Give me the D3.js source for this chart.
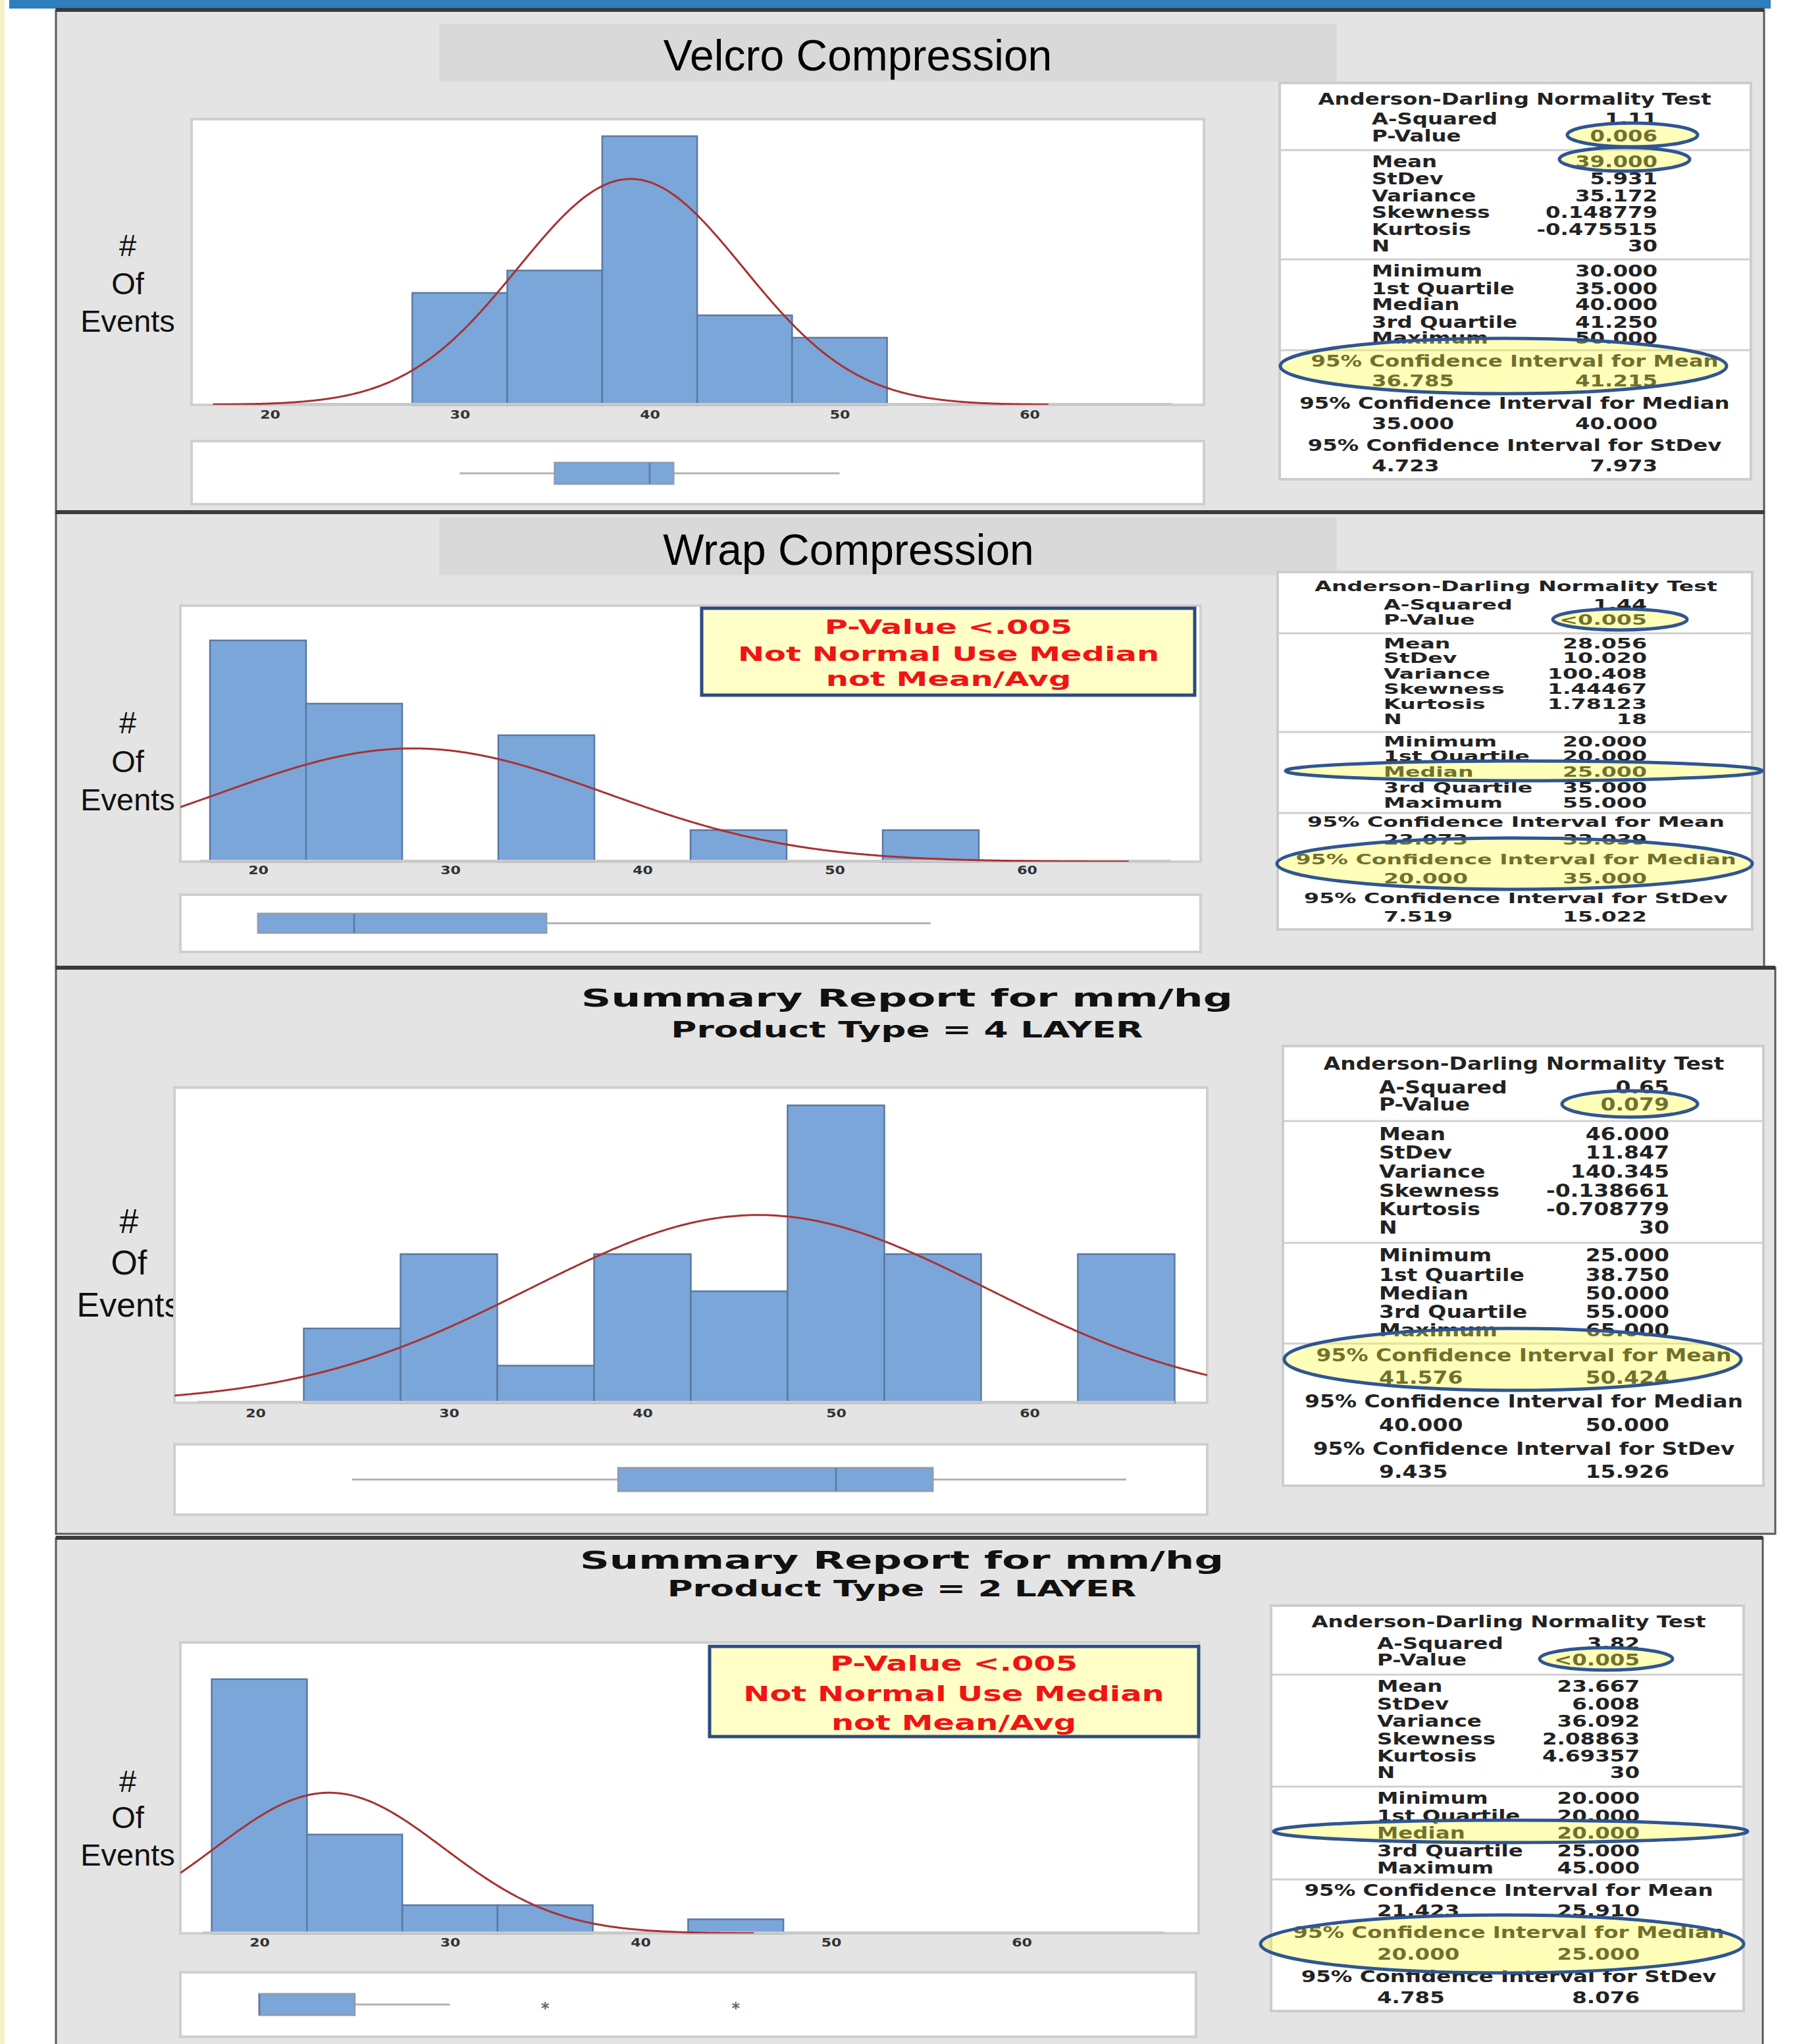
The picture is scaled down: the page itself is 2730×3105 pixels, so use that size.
<!DOCTYPE html>
<html>
<head>
<meta charset="utf-8">
<script src="https://cdn.jsdelivr.net/npm/d3@7/dist/d3.min.js"></script>
<style>
html, body { margin: 0; padding: 0; background: #fff; }
svg { display: block; }
</style>
</head>
<body>
<script>
'use strict';

var binWidth = 5;
var xTicks = [20, 30, 40, 50, 60];

var velcroBins = [30, 35, 40, 45, 50];
var velcroCounts = [5, 6, 12, 4, 3];
var wrapBins = [20, 25, 30, 35, 40, 45, 50, 55];
var wrapCounts = [7, 5, 0, 4, 0, 1, 0, 1];
var layer4Bins = [25, 30, 35, 40, 45, 50, 55, 60, 65];
var layer4Counts = [2, 4, 1, 4, 3, 8, 4, 0, 4];
var layer2Bins = [20, 25, 30, 35, 40, 45];
var layer2Counts = [18, 7, 2, 2, 0, 1];

// box plot: whisker low, Q1, median, Q3, whisker high
var velcroBox = [30, 35, 40, 41.25, 50];
var wrapBox = [20, 20, 25, 35, 55];
var layer4Box = [25, 38.75, 50, 55, 65];
var layer2Box = [20, 20, 20, 25, 30];
var layer2Outliers = [35, 45];

var statLabels = ['A-Squared', 'P-Value', 'Mean', 'StDev', 'Variance', 'Skewness', 'Kurtosis', 'N',
    'Minimum', '1st Quartile', 'Median', '3rd Quartile', 'Maximum'];
var ciLabels = ['95% Confidence Interval for Mean', '95% Confidence Interval for Median',
    '95% Confidence Interval for StDev'];

var velcroStats = ['1.11', '0.006', '39.000', '5.931', '35.172', '0.148779', '-0.475515', '30',
    '30.000', '35.000', '40.000', '41.250', '50.000'];
var velcroCI = [['36.785', '41.215'], ['35.000', '40.000'], ['4.723', '7.973']];
var wrapStats = ['1.44', '<0.005', '28.056', '10.020', '100.408', '1.44467', '1.78123', '18',
    '20.000', '20.000', '25.000', '35.000', '55.000'];
var wrapCI = [['23.073', '33.039'], ['20.000', '35.000'], ['7.519', '15.022']];
var layer4Stats = ['0.65', '0.079', '46.000', '11.847', '140.345', '-0.138661', '-0.708779', '30',
    '25.000', '38.750', '50.000', '55.000', '65.000'];
var layer4CI = [['41.576', '50.424'], ['40.000', '50.000'], ['9.435', '15.926']];
var layer2Stats = ['3.82', '<0.005', '23.667', '6.008', '36.092', '2.08863', '4.69357', '30',
    '20.000', '20.000', '20.000', '25.000', '45.000'];
var layer2CI = [['21.423', '25.910'], ['20.000', '25.000'], ['4.785', '8.076']];

var calloutLines = ['P-Value <.005', 'Not Normal Use Median', 'not Mean/Avg'];
var yLabelLines = ['#', 'Of', 'Events'];

// ---- layout of each report (page pixels) ----
var panels = [
    {
        bins: velcroBins, counts: velcroCounts, box: velcroBox, outliers: [],
        stats: velcroStats, ci: velcroCI,
        frame: {x: 85, y: 15, w: 2595, h: 763},
        titleBox: {x: 667, y: 36, w: 1364, h: 88},
        title: {text: 'Velcro Compression', x: 1303, y: 84, size: 66},
        plot: {x: 291, y: 181, w: 1538, h: 434}, x20: 410, unit: 28.85, ymax: 12.76,
        curve: [17, 61], tickY: 630,
        boxArea: {x: 291, y: 670, w: 1538, h: 96}, boxY: [703, 735],
        yLab: {x: 194, y: [372, 430, 487], size: 47},
        statBox: {x: 1944, y: 126, w: 716, h: 602}, sFont: 24, sx: 1.35,
        labelX: 2084, valueX: 2518, centerX: 2301, titleY: 151,
        rowY: [181, 207, 246, 272, 298, 323, 349, 374, 412, 439, 463, 490, 514],
        ciY: [549, 579, 613, 644, 677, 708], dividers: [228, 394, 532],
        ellipses: [{cx: 2480, cy: 205, rx: 99, ry: 18}, {cx: 2468, cy: 242, rx: 99, ry: 18},
            {cx: 2284, cy: 556, rx: 339, ry: 42}]
    },
    {
        bins: wrapBins, counts: wrapCounts, box: wrapBox, outliers: [],
        stats: wrapStats, ci: wrapCI,
        frame: {x: 85, y: 778, w: 2595, h: 692},
        titleBox: {x: 667, y: 786, w: 1364, h: 88},
        title: {text: 'Wrap Compression', x: 1289, y: 835, size: 66},
        plot: {x: 274, y: 920, w: 1550, h: 389}, x20: 392, unit: 29.2, ymax: 8.1,
        curve: [15.9, 65.3], tickY: 1322,
        boxArea: {x: 274, y: 1359, w: 1550, h: 87}, boxY: [1388, 1417],
        yLab: {x: 194, y: [1097, 1156, 1214], size: 47},
        statBox: {x: 1941, y: 869, w: 721, h: 543}, sFont: 21, sx: 1.58,
        labelX: 2102, valueX: 2502, centerX: 2303, titleY: 891,
        rowY: [919, 942, 978, 1000, 1024, 1047, 1070, 1093, 1127, 1149, 1173, 1197, 1220],
        ciY: [1249, 1276, 1306, 1335, 1365, 1393], dividers: [962, 1112, 1235],
        ellipses: [{cx: 2461, cy: 941, rx: 102, ry: 16}, {cx: 2315, cy: 1171, rx: 362, ry: 15},
            {cx: 2301, cy: 1312, rx: 361, ry: 39}],
        callout: {x: 1066, y: 924, w: 749, h: 132, cx: 1441, y0: [952, 993, 1031], size: 31, sx: 1.55}
    },
    {
        bins: layer4Bins, counts: layer4Counts, box: layer4Box, outliers: [],
        stats: layer4Stats, ci: layer4CI,
        frame: {x: 85, y: 1470, w: 2612, h: 860},
        heading: {x: 1378, y: [1516, 1564], size: [38, 34], sx: [1.66, 1.57],
            text: ['Summary Report for mm/hg', 'Product Type = 4 LAYER']},
        plot: {x: 265, y: 1652, w: 1569, h: 479}, x20: 388, unit: 29.4, ymax: 8.48,
        curve: [15.8, 69.2], tickY: 2147,
        boxArea: {x: 265, y: 2194, w: 1569, h: 107}, boxY: [2230, 2265],
        yLab: {x: 196, y: [1855, 1918, 1982], size: 52},
        statBox: {x: 1949, y: 1589, w: 730, h: 668}, sFont: 26, sx: 1.27,
        labelX: 2095, valueX: 2536, centerX: 2315, titleY: 1616,
        rowY: [1652, 1678, 1723, 1751, 1780, 1809, 1837, 1865, 1907, 1937, 1965, 1993, 2021],
        ciY: [2059, 2093, 2129, 2165, 2201, 2236], dividers: [1703, 1888, 2041],
        ellipses: [{cx: 2476, cy: 1677, rx: 103, ry: 20}, {cx: 2298, cy: 2065, rx: 347, ry: 47}]
    },
    {
        bins: layer2Bins, counts: layer2Counts, box: layer2Box, outliers: layer2Outliers,
        stats: layer2Stats, ci: layer2CI,
        frame: {x: 85, y: 2336, w: 2593, h: 790},
        heading: {x: 1370, y: [2370, 2414], size: [38, 34], sx: [1.64, 1.56],
            text: ['Summary Report for mm/hg', 'Product Type = 2 LAYER']},
        plot: {x: 274, y: 2495, w: 1547, h: 442}, x20: 394, unit: 28.95, ymax: 20.6,
        curve: [15.85, 46], tickY: 2951,
        boxArea: {x: 274, y: 2996, w: 1543, h: 98}, boxY: [3029, 3061],
        yLab: {x: 194, y: [2705, 2760, 2817], size: 47},
        statBox: {x: 1931, y: 2439, w: 718, h: 616}, sFont: 25, sx: 1.3,
        labelX: 2092, valueX: 2491, centerX: 2292, titleY: 2463,
        rowY: [2496, 2521, 2561, 2588, 2614, 2641, 2667, 2692, 2731, 2758, 2784, 2811, 2837],
        ciY: [2871, 2902, 2935, 2968, 3002, 3034], dividers: [2544, 2714, 2855],
        ellipses: [{cx: 2440, cy: 2520, rx: 101, ry: 17}, {cx: 2295, cy: 2782, rx: 360, ry: 17},
            {cx: 2282, cy: 2953, rx: 367, ry: 44}],
        callout: {x: 1078, y: 2501, w: 743, h: 137, cx: 1449, y0: [2527, 2573, 2617], size: 32, sx: 1.5}
    }
];

var W = 2730, H = 3105;
var barFill = '#7ba6d9', barStroke = '#5a79a3';

var svg = d3.select('body').append('svg')
    .attr('width', W)
    .attr('height', H);

svg.append('rect').attr('width', W).attr('height', H).attr('fill', '#fff');
svg.append('rect').attr('x', 0).attr('y', 0).attr('width', 7).attr('height', H).attr('fill', '#f1f1c4');
svg.append('rect').attr('x', 14).attr('y', 0).attr('width', 2676).attr('height', 13).attr('fill', '#2f7fbd');

// text stretched sideways, like the widened screenshot
function stext(g, x, y, str, o) {
    return g.append('text')
        .attr('transform', 'translate(' + x + ',' + y + ') scale(' + (o.sx || 1) + ',1)')
        .attr('text-anchor', o.anchor || 'start')
        .attr('dominant-baseline', 'central')
        .style('font-family', o.family || 'DejaVu Sans')
        .style('font-weight', o.weight || 'bold')
        .style('font-size', o.size + 'px')
        .attr('fill', o.fill || '#222')
        .text(str);
}

function normalPdf(v, mu, sd) {
    var z = (v - mu) / sd;
    return Math.exp(-0.5 * z * z) / (sd * Math.sqrt(2 * Math.PI));
}

panels.forEach(function(p, pi) {
    var g = svg.append('g').attr('class', 'panel-' + pi);
    var f = p.frame;

    g.append('rect')
        .attr('x', f.x).attr('y', f.y).attr('width', f.w).attr('height', f.h)
        .attr('fill', '#e4e4e4')
        .attr('stroke', '#5a5a5a')
        .attr('stroke-width', 3);
    g.append('line')
        .attr('x1', f.x).attr('x2', f.x + f.w).attr('y1', f.y).attr('y2', f.y)
        .attr('stroke', '#3a3a3a').attr('stroke-width', 6);

    if (p.titleBox) {
        g.append('rect')
            .attr('x', p.titleBox.x).attr('y', p.titleBox.y)
            .attr('width', p.titleBox.w).attr('height', p.titleBox.h)
            .attr('fill', '#d9d9d9');
        stext(g, p.title.x, p.title.y, p.title.text, {
            anchor: 'middle', family: 'Liberation Sans', weight: 'normal', size: p.title.size, fill: '#000'
        });
    }
    if (p.heading) {
        p.heading.text.forEach(function(t, i) {
            stext(g, p.heading.x, p.heading.y[i], t, {
                anchor: 'middle', size: p.heading.size[i], sx: p.heading.sx[i], fill: '#111'
            });
        });
    }

    // y label
    yLabelLines.forEach(function(t, i) {
        stext(g, p.yLab.x, p.yLab.y[i], t, {
            anchor: 'middle', family: 'Liberation Sans', weight: 'normal', size: p.yLab.size, fill: '#111'
        });
    });

    // histogram
    var pl = p.plot;
    var base = pl.y + pl.h;
    var x = d3.scaleLinear()
        .domain([20 - (p.x20 - pl.x) / p.unit, 20 + (pl.x + pl.w - p.x20) / p.unit])
        .range([pl.x, pl.x + pl.w]);
    var y = d3.scaleLinear().domain([0, p.ymax]).range([base, pl.y]);

    g.append('rect')
        .attr('x', pl.x).attr('y', pl.y).attr('width', pl.w).attr('height', pl.h)
        .attr('fill', '#fff')
        .attr('stroke', '#cfcfcf')
        .attr('stroke-width', 4);

    var clipId = 'clip' + pi;
    g.append('clipPath').attr('id', clipId)
        .append('rect')
        .attr('x', pl.x).attr('y', pl.y).attr('width', pl.w).attr('height', pl.h);

    var bars = p.bins.map(function(b, i) { return {mid: b, n: p.counts[i]}; })
        .filter(function(d) { return d.n > 0; });

    g.selectAll('rect.bar')
        .data(bars)
        .enter()
        .append('rect')
        .attr('class', 'bar')
        .attr('x', function(d) { return x(d.mid - binWidth / 2); })
        .attr('width', function(d) { return x(d.mid + binWidth / 2) - x(d.mid - binWidth / 2); })
        .attr('y', function(d) { return y(d.n); })
        .attr('height', function(d) { return base - y(d.n); })
        .attr('fill', barFill)
        .attr('stroke', barStroke)
        .attr('stroke-width', 2.5);

    g.append('line')
        .attr('x1', x(17)).attr('x2', x(67.5))
        .attr('y1', base - 1).attr('y2', base - 1)
        .attr('stroke', '#c9c9c9').attr('stroke-width', 4);

    // fitted normal curve from the reported mean / stdev
    var mu = +p.stats[2], sd = +p.stats[3], n = +p.stats[7];
    var pts = d3.range(p.curve[0], p.curve[1] + 0.05, 0.1);
    var line = d3.line()
        .x(function(v) { return x(v); })
        .y(function(v) { return y(n * binWidth * normalPdf(v, mu, sd)); })
        .curve(d3.curveBasis);
    g.append('path')
        .datum(pts)
        .attr('d', line)
        .attr('clip-path', 'url(#' + clipId + ')')
        .attr('fill', 'none')
        .attr('stroke', '#a83232')
        .attr('stroke-width', 3);

    // x axis labels
    var axis = d3.axisBottom(x).tickValues(xTicks).tickSize(0).tickPadding(0);
    var ag = g.append('g')
        .attr('transform', 'translate(0,' + p.tickY + ')')
        .call(axis);
    ag.select('.domain').remove();
    ag.selectAll('.tick text')
        .attr('y', 0)
        .attr('dy', null)
        .attr('dominant-baseline', 'central')
        .attr('transform', 'scale(1.3,1)')
        .attr('fill', '#333')
        .style('font-family', 'DejaVu Sans')
        .style('font-weight', 'bold')
        .style('font-size', '17px');

    // box plot strip
    var ba = p.boxArea;
    g.append('rect')
        .attr('x', ba.x).attr('y', ba.y).attr('width', ba.w).attr('height', ba.h)
        .attr('fill', '#fff')
        .attr('stroke', '#cfcfcf')
        .attr('stroke-width', 4);
    var bx = p.box;
    var midY = (p.boxY[0] + p.boxY[1]) / 2;
    g.append('line')
        .attr('x1', x(bx[0])).attr('x2', x(bx[4]))
        .attr('y1', midY).attr('y2', midY)
        .attr('stroke', '#b3b3b3').attr('stroke-width', 3);
    g.append('rect')
        .attr('x', x(bx[1])).attr('y', p.boxY[0])
        .attr('width', x(bx[3]) - x(bx[1])).attr('height', p.boxY[1] - p.boxY[0])
        .attr('fill', barFill)
        .attr('stroke', '#8e9db3')
        .attr('stroke-width', 3);
    g.append('line')
        .attr('x1', x(bx[2])).attr('x2', x(bx[2]))
        .attr('y1', p.boxY[0]).attr('y2', p.boxY[1])
        .attr('stroke', '#5a79a3').attr('stroke-width', 2.5);
    g.selectAll('text.outlier')
        .data(p.outliers)
        .enter()
        .append('text')
        .attr('class', 'outlier')
        .attr('x', function(d) { return x(d); })
        .attr('y', midY + 14)
        .attr('text-anchor', 'middle')
        .attr('fill', '#666')
        .style('font-family', 'DejaVu Sans')
        .style('font-weight', 'bold')
        .style('font-size', '24px')
        .text('*');

    // statistics table
    var sb = p.statBox;
    g.append('rect')
        .attr('x', sb.x).attr('y', sb.y).attr('width', sb.w).attr('height', sb.h)
        .attr('fill', '#fff')
        .attr('stroke', '#cdcdcd')
        .attr('stroke-width', 4);
    p.dividers.forEach(function(dy) {
        g.append('line')
            .attr('x1', sb.x).attr('x2', sb.x + sb.w)
            .attr('y1', dy).attr('y2', dy)
            .attr('stroke', '#d0d0d0').attr('stroke-width', 3);
    });
    var so = {size: p.sFont, sx: p.sx};
    stext(g, p.centerX, p.titleY, 'Anderson-Darling Normality Test', Object.assign({anchor: 'middle'}, so));
    statLabels.forEach(function(lab, i) {
        stext(g, p.labelX, p.rowY[i], lab, so);
        stext(g, p.valueX, p.rowY[i], p.stats[i], Object.assign({anchor: 'end'}, so));
    });
    ciLabels.forEach(function(lab, i) {
        stext(g, p.centerX, p.ciY[i * 2], lab, Object.assign({anchor: 'middle'}, so));
        stext(g, p.labelX, p.ciY[i * 2 + 1], p.ci[i][0], so);
        stext(g, p.valueX, p.ciY[i * 2 + 1], p.ci[i][1], Object.assign({anchor: 'end'}, so));
    });

    // highlight ellipses laid over the table
    g.selectAll('ellipse.mark')
        .data(p.ellipses)
        .enter()
        .append('ellipse')
        .attr('class', 'mark')
        .attr('cx', function(d) { return d.cx; })
        .attr('cy', function(d) { return d.cy; })
        .attr('rx', function(d) { return d.rx; })
        .attr('ry', function(d) { return d.ry; })
        .attr('fill', '#ffff40')
        .attr('fill-opacity', 0.36)
        .attr('stroke', '#2f5592')
        .attr('stroke-width', 5);

    // "not normal" callout
    if (p.callout) {
        var c = p.callout;
        g.append('rect')
            .attr('x', c.x).attr('y', c.y).attr('width', c.w).attr('height', c.h)
            .attr('fill', '#ffffc8')
            .attr('stroke', '#2c4b7c')
            .attr('stroke-width', 5);
        calloutLines.forEach(function(t, i) {
            stext(g, c.cx, c.y0[i], t, {anchor: 'middle', size: c.size, sx: c.sx, fill: '#f01414'});
        });
    }
});
</script>
</body>
</html>
